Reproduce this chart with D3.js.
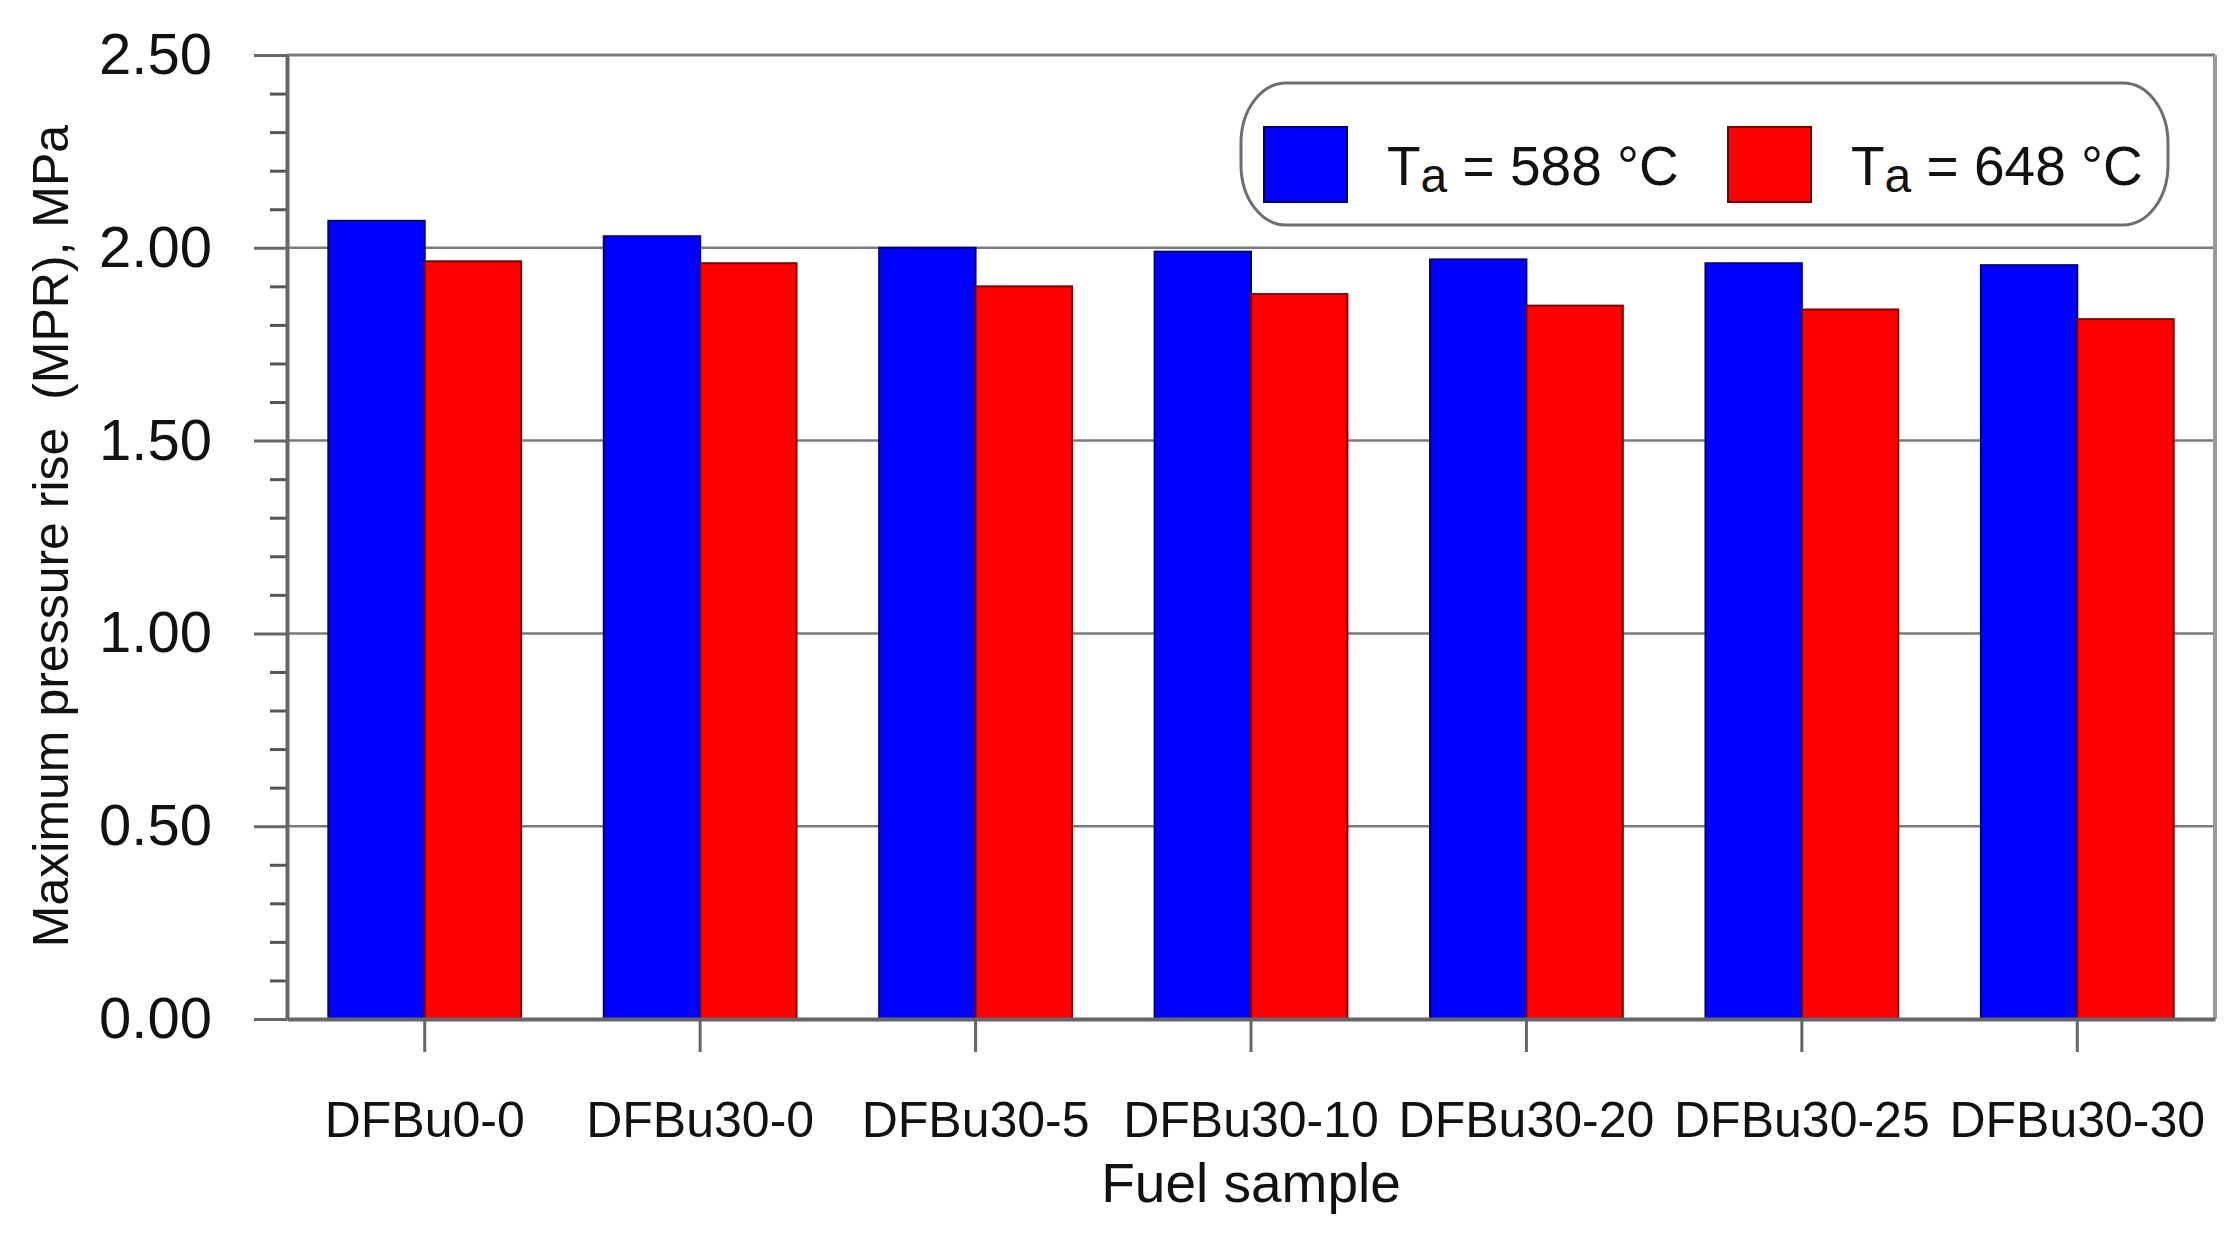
<html>
<script src="https://d3js.org/d3.v7.min.js"></script>
<style>
    body { margin: 0; background: #fff; }
    text { font-family: "Liberation Sans", Arial, sans-serif; fill: #111; }
</style>
<body>
<svg id="chart" width="2240" height="1241"></svg>
<script>
    // data
    const categories = ["DFBu0-0", "DFBu30-0", "DFBu30-5", "DFBu30-10", "DFBu30-20", "DFBu30-25", "DFBu30-30"];
    const series = ["588", "648"];
    const mpr588 = [2.07, 2.03, 2.00, 1.99, 1.97, 1.96, 1.955];
    const mpr648 = [1.965, 1.96, 1.90, 1.88, 1.85, 1.84, 1.815];
    const majorTicks = [0, 0.5, 1.0, 1.5, 2.0, 2.5];

    const svg = d3.select("#chart");
    const plotLeft = 287, plotRight = 2215, plotTop = 55, plotBottom = 1019;

    var x = d3.scaleBand()
        .domain(categories)
        .range([plotLeft, plotRight])
        .paddingInner(0.3)
        .paddingOuter(0.15);

    var xs = d3.scaleBand()
        .domain(series)
        .range([0, x.bandwidth()]);

    var y = d3.scaleLinear()
        .domain([0, 2.5])
        .range([plotBottom, plotTop]);

    const color = { "588": "#0000ff", "648": "#ff0000" };
    const edge = { "588": "#00007a", "648": "#7a0000" };

    // horizontal grid lines
    svg.append("g")
        .selectAll("line")
        .data(majorTicks.filter(d => d > 0 && d < 2.5))
        .enter()
        .append("line")
        .attr("x1", plotLeft).attr("x2", plotRight)
        .attr("y1", d => y(d)).attr("y2", d => y(d))
        .attr("stroke", "#7a7a7a")
        .attr("stroke-width", 2.5);

    // top and right frame
    svg.append("line")
        .attr("x1", plotLeft).attr("x2", plotRight)
        .attr("y1", y(2.5)).attr("y2", y(2.5))
        .attr("stroke", "#7a7a7a").attr("stroke-width", 3);
    svg.append("line")
        .attr("x1", plotRight).attr("x2", plotRight)
        .attr("y1", y(2.5)).attr("y2", y(0))
        .attr("stroke", "#9a9a9a").attr("stroke-width", 4);

    // bars
    const rows = categories.map((c, i) => ({ cat: c, values: [mpr588[i], mpr648[i]] }));
    const groups = svg.append("g")
        .selectAll("g")
        .data(rows)
        .enter()
        .append("g")
        .attr("transform", d => "translate(" + x(d.cat) + ",0)");

    groups.selectAll("rect")
        .data(d => d.values.map((v, j) => ({ key: series[j], value: v })))
        .enter()
        .append("rect")
        .attr("x", d => xs(d.key))
        .attr("y", d => y(d.value))
        .attr("width", xs.bandwidth())
        .attr("height", d => y(0) - y(d.value))
        .attr("fill", d => color[d.key])
        .attr("stroke", d => edge[d.key])
        .attr("stroke-width", 2);

    // y axis, minor ticks then major
    svg.append("g")
        .attr("transform", "translate(" + plotLeft + ",0)")
        .call(d3.axisLeft(y)
            .tickValues(d3.range(0, 26).map(d => d / 10).filter(d => Math.round(d * 10) % 5 != 0))
            .tickSize(17).tickFormat(""))
        .call(g => g.select(".domain").remove())
        .call(g => g.selectAll("line").attr("stroke", "#555").attr("stroke-width", 3));

    var yAxis = svg.append("g")
        .attr("transform", "translate(" + plotLeft + ",0)")
        .call(d3.axisLeft(y).tickValues(majorTicks).tickFormat(d3.format(".2f"))
            .tickSize(33).tickSizeOuter(0).tickPadding(42));
    yAxis.select(".domain").attr("stroke", "#666").attr("stroke-width", 4);
    yAxis.selectAll("line").attr("stroke", "#666").attr("stroke-width", 3);
    yAxis.selectAll("text")
        .style("font-family", "'Liberation Sans', Arial, sans-serif")
        .style("font-size", "58px")
        .attr("fill", "#111");

    // x axis
    var xAxis = svg.append("g")
        .attr("transform", "translate(0," + plotBottom + ")")
        .call(d3.axisBottom(x).tickSize(33).tickSizeOuter(0));
    xAxis.select(".domain").attr("stroke", "#666").attr("stroke-width", 4);
    xAxis.selectAll("line").attr("stroke", "#666").attr("stroke-width", 3);
    xAxis.selectAll("text")
        .attr("y", 118).attr("dy", 0)
        .style("font-family", "'Liberation Sans', Arial, sans-serif")
        .style("font-size", "50px")
        .attr("fill", "#111");

    // axis titles
    svg.append("text")
        .attr("text-anchor", "middle")
        .attr("transform", "translate(68,536) rotate(-90)")
        .style("font-size", "50px")
        .style("white-space", "pre")
        .text("Maximum pressure rise  (MPR), MPa");

    svg.append("text")
        .attr("text-anchor", "middle")
        .attr("x", (plotLeft + plotRight) / 2)
        .attr("y", 1202)
        .style("font-size", "55px")
        .text("Fuel sample");

    // legend
    svg.append("rect")
        .attr("x", 1241).attr("y", 83)
        .attr("width", 927).attr("height", 142)
        .attr("rx", 45).attr("ry", 60)
        .attr("fill", "#fff")
        .attr("stroke", "#6e6e6e")
        .attr("stroke-width", 3);

    const legendX = [1264, 1728];
    series.forEach(function (s, i) {
        svg.append("rect")
            .attr("x", legendX[i]).attr("y", 127)
            .attr("width", 83).attr("height", 75)
            .attr("fill", color[s])
            .attr("stroke", edge[s])
            .attr("stroke-width", 2);
        var t = svg.append("text")
            .attr("x", legendX[i] + 123).attr("y", 185)
            .style("font-size", "55px");
        t.append("tspan").text("T");
        t.append("tspan").attr("dy", 7).style("font-size", "48px").text("a");
        t.append("tspan").attr("dy", -7).text(" = " + s + " \u00B0C");
    });
</script>
</body>
</html>
